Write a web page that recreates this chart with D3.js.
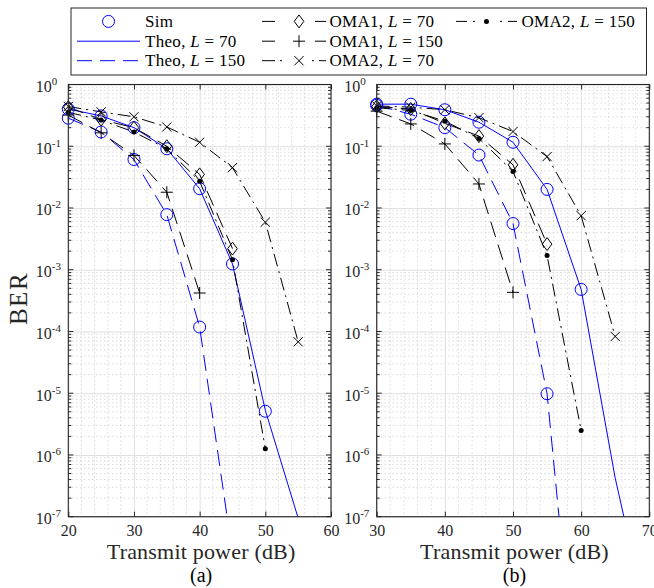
<!DOCTYPE html>
<html>
<head>
<meta charset="utf-8">
<script src="https://cdn.jsdelivr.net/npm/d3@7"></script>
<style>
  body { margin: 0; background: #fff; }
  text { font-family: "Liberation Serif", "Times New Roman", serif; }
</style>
</head>
<body>
<script>
// ---- data, panel (a) ----
var powerA = [20, 25, 30, 35, 40, 45, 50, 55, 60];
var simA70 = [0.40, 0.31, 0.20, 0.091, 0.0205, 0.00124, 5.1e-6];
var simA150 = [0.285, 0.170, 0.061, 0.0078, 1.18e-4];
var theoA70 = [0.40, 0.31, 0.20, 0.091, 0.0205, 0.00124, 5.3e-6, 9.5e-8, 3e-10];
var theoA150 = [0.285, 0.170, 0.061, 0.0078, 1.18e-4, 2.5e-8];
var oma1A70 = [0.43, 0.27, 0.20, 0.100, 0.035, 0.0022];
var oma1A150 = [0.32, 0.165, 0.071, 0.018, 4.2e-4];
var oma2A70 = [0.44, 0.36, 0.30, 0.205, 0.116, 0.045, 0.0059, 6.8e-5];
var oma2A150 = [0.355, 0.265, 0.17, 0.091, 0.027, 0.00145, 1.26e-6];

// ---- data, panel (b) ----
var powerB = [30, 35, 40, 45, 50, 55, 60, 65, 70];
var simB70 = [0.48, 0.48, 0.39, 0.245, 0.116, 0.020, 4.8e-4];
var simB150 = [0.46, 0.33, 0.20, 0.072, 0.0056, 9.8e-6];
var theoB70 = [0.48, 0.48, 0.39, 0.245, 0.116, 0.020, 4.8e-4, 4.2e-7, 1.5e-9];
var theoB150 = [0.46, 0.33, 0.20, 0.072, 0.0056, 9.8e-6, 2e-11];
var oma1B70 = [0.44, 0.40, 0.235, 0.146, 0.050, 0.0026];
var oma1B150 = [0.37, 0.23, 0.109, 0.0245, 4.3e-4];
var oma2B70 = [0.45, 0.43, 0.39, 0.29, 0.173, 0.068, 0.0075, 8.3e-5];
var oma2B150 = [0.42, 0.38, 0.255, 0.134, 0.039, 0.0017, 2.5e-6];

var yDecades = [1e-7, 1e-6, 1e-5, 1e-4, 1e-3, 1e-2, 1e-1, 1];
var xlabel = "Transmit power (dB)";

var BLUE = "#0000ff", BLACK = "#000";
var DASH = "16,8", DASHDOT = "13,5,2,5";

var W = 654, H = 588;
var plotTop = 84.5, plotBottom = 516.7;

var svg = d3.select("body").append("svg")
  .attr("width", W).attr("height", H);
svg.append("rect").attr("width", W).attr("height", H).attr("fill", "#fff");

function pairs(xs, ys) {
  return ys.map(function(v, i) { return [xs[i], v]; });
}

function drawMarker(g, type, cx, cy, color) {
  if (type == "o") {
    g.append("circle").attr("cx", cx).attr("cy", cy).attr("r", 6)
      .attr("fill", "none").attr("stroke", color).attr("stroke-width", 1);
  } else if (type == "d") {
    g.append("path")
      .attr("d", "M" + cx + "," + (cy - 6.5) + "L" + (cx + 4.8) + "," + cy +
        "L" + cx + "," + (cy + 6.5) + "L" + (cx - 4.8) + "," + cy + "Z")
      .attr("fill", "none").attr("stroke", color).attr("stroke-width", 1);
  } else if (type == "+") {
    g.append("path")
      .attr("d", "M" + (cx - 6) + "," + cy + "H" + (cx + 6) + "M" + cx + "," + (cy - 6) + "V" + (cy + 6))
      .attr("stroke", color).attr("stroke-width", 1);
  } else if (type == "x") {
    g.append("path")
      .attr("d", "M" + (cx - 4.6) + "," + (cy - 4.6) + "L" + (cx + 4.6) + "," + (cy + 4.6) +
        "M" + (cx - 4.6) + "," + (cy + 4.6) + "L" + (cx + 4.6) + "," + (cy - 4.6))
      .attr("stroke", color).attr("stroke-width", 1);
  } else if (type == ".") {
    g.append("circle").attr("cx", cx).attr("cy", cy).attr("r", 2.5).attr("fill", color);
  }
}

var panels = [
  { name: "(a)", left: 68.3, right: 331, domain: [20, 60], xs: powerA,
    series: [
      { data: pairs(powerA, theoA70), color: BLUE, dash: null, marker: null },
      { data: pairs(powerA, theoA150), color: BLUE, dash: DASH, marker: null },
      { data: pairs(powerA, simA70), color: BLUE, dash: "none", marker: "o" },
      { data: pairs(powerA, simA150), color: BLUE, dash: "none", marker: "o" },
      { data: pairs(powerA, oma1A70), color: BLACK, dash: DASH, marker: "d" },
      { data: pairs(powerA, oma1A150), color: BLACK, dash: DASH, marker: "+" },
      { data: pairs(powerA, oma2A70), color: BLACK, dash: DASHDOT, marker: "x" },
      { data: pairs(powerA, oma2A150), color: BLACK, dash: DASHDOT, marker: "." }
    ] },
  { name: "(b)", left: 376.7, right: 649.3, domain: [30, 70], xs: powerB,
    series: [
      { data: pairs(powerB, theoB70), color: BLUE, dash: null, marker: null },
      { data: pairs(powerB, theoB150), color: BLUE, dash: DASH, marker: null },
      { data: pairs(powerB, simB70), color: BLUE, dash: "none", marker: "o" },
      { data: pairs(powerB, simB150), color: BLUE, dash: "none", marker: "o" },
      { data: pairs(powerB, oma1B70), color: BLACK, dash: DASH, marker: "d" },
      { data: pairs(powerB, oma1B150), color: BLACK, dash: DASH, marker: "+" },
      { data: pairs(powerB, oma2B70), color: BLACK, dash: DASHDOT, marker: "x" },
      { data: pairs(powerB, oma2B150), color: BLACK, dash: DASHDOT, marker: "." }
    ] }
];

panels.forEach(function(p, pi) {
  var x = d3.scaleLinear().domain(p.domain).range([p.left, p.right]);
  var y = d3.scaleLog().domain([1e-7, 1]).range([plotBottom, plotTop]);
  var w = p.right - p.left, h = plotBottom - plotTop;
  var g = svg.append("g");

  // minor grid
  var minorY = [];
  yDecades.slice(0, -1).forEach(function(d) {
    for (var k = 2; k < 10; k++) minorY.push(d * k);
  });
  var minorX = d3.range(p.domain[0], p.domain[1] + 0.1, 2).filter(function(v) { return v % 10 != 0; });
  g.selectAll(".mgy").data(minorY).enter().append("line")
    .attr("x1", p.left).attr("x2", p.right)
    .attr("y1", function(d) { return y(d); }).attr("y2", function(d) { return y(d); })
    .attr("stroke", "#bcbcbc").attr("stroke-width", 0.8).attr("stroke-dasharray", "1,3");
  g.selectAll(".mgx").data(minorX).enter().append("line")
    .attr("y1", plotTop).attr("y2", plotBottom)
    .attr("x1", function(d) { return x(d); }).attr("x2", function(d) { return x(d); })
    .attr("stroke", "#bcbcbc").attr("stroke-width", 0.8).attr("stroke-dasharray", "1,3");

  // major grid
  var xt = d3.range(p.domain[0], p.domain[1] + 1, 10);
  g.append("g").attr("transform", "translate(0," + plotBottom + ")")
    .call(d3.axisBottom(x).tickValues(xt).tickSize(-h).tickFormat(""))
    .call(function(s) { s.select(".domain").remove(); s.selectAll("line").attr("stroke", "#e0e0e0"); });
  g.append("g").attr("transform", "translate(" + p.left + ",0)")
    .call(d3.axisLeft(y).tickValues(yDecades).tickSize(-w).tickFormat(""))
    .call(function(s) { s.select(".domain").remove(); s.selectAll("line").attr("stroke", "#e0e0e0"); });

  // data
  var clipId = "clip" + pi;
  svg.append("clipPath").attr("id", clipId).append("rect")
    .attr("x", p.left).attr("y", plotTop).attr("width", w).attr("height", h);
  var dg = g.append("g").attr("clip-path", "url(#" + clipId + ")");
  var line = d3.line().x(function(d) { return x(d[0]); }).y(function(d) { return y(d[1]); });
  p.series.forEach(function(s) {
    if (s.dash != "none") {
      dg.append("path").attr("d", line(s.data)).attr("fill", "none")
        .attr("stroke", s.color).attr("stroke-width", 1)
        .attr("stroke-dasharray", s.dash);
    }
  });
  var mg = g.append("g");
  p.series.forEach(function(s) {
    if (s.marker) s.data.forEach(function(d) { drawMarker(mg, s.marker, x(d[0]), y(d[1]), s.color); });
  });

  // axes ticks
  var axColor = "#262626";
  var bx = g.append("g").attr("transform", "translate(0," + plotBottom + ")")
    .call(d3.axisBottom(x).tickValues(xt).tickSize(-5).tickSizeOuter(0));
  bx.select(".domain").remove();
  bx.selectAll("line").attr("stroke", axColor);
  bx.selectAll("text").attr("y", 19.5).attr("dy", 0)
    .attr("font-size", 16).attr("fill", axColor)
    .style("font-family", '"Liberation Serif", serif');
  var tx = g.append("g").attr("transform", "translate(0," + plotTop + ")")
    .call(d3.axisTop(x).tickValues(xt).tickSize(-5).tickFormat(""));
  tx.select(".domain").remove();
  tx.selectAll("line").attr("stroke", axColor);

  [[p.left, 1], [p.right, -1]].forEach(function(side) {
    var sg = g.append("g");
    sg.selectAll(".maj").data(yDecades).enter().append("line")
      .attr("x1", side[0]).attr("x2", side[0] + side[1] * 5)
      .attr("y1", function(d) { return y(d); }).attr("y2", function(d) { return y(d); })
      .attr("stroke", axColor);
    sg.selectAll(".min").data(minorY).enter().append("line")
      .attr("x1", side[0]).attr("x2", side[0] + side[1] * 3)
      .attr("y1", function(d) { return y(d); }).attr("y2", function(d) { return y(d); })
      .attr("stroke", axColor);
  });

  var ly = g.append("g").attr("transform", "translate(" + p.left + ",0)")
    .call(d3.axisLeft(y).tickValues(yDecades).tickSize(0));
  ly.select(".domain").remove();
  ly.selectAll(".tick text").each(function(d) {
    var t = d3.select(this).text(null)
      .attr("x", -32.5).attr("y", 7).attr("dy", 0)
      .attr("text-anchor", "start").attr("font-size", 16).attr("fill", axColor)
      .style("font-family", '"Liberation Serif", serif');
    t.append("tspan").text("10");
    t.append("tspan").attr("dy", -7).attr("font-size", 11).text(String(Math.round(Math.log10(d))));
  });

  g.append("rect").attr("x", p.left).attr("y", plotTop).attr("width", w).attr("height", h)
    .attr("fill", "none").attr("stroke", axColor).attr("stroke-width", 1.1);

  var cx = (p.left + p.right) / 2 + 1.5;
  g.append("text").attr("x", cx).attr("y", 559).attr("text-anchor", "middle")
    .attr("font-size", 22).attr("letter-spacing", 0.2).attr("fill", "#262626").text(xlabel);
  g.append("text").attr("x", cx).attr("y", 582).attr("text-anchor", "middle")
    .attr("font-size", 20).attr("fill", "#000").text(p.name);
});

svg.append("text").attr("transform", "translate(27,298.5) rotate(-90)")
  .attr("text-anchor", "middle").attr("font-size", 25).attr("letter-spacing", 1.5)
  .attr("fill", "#262626").text("BER");

// legend
var legendItems = [
  { label: "Sim", L: null, col: 0, row: 0, color: BLUE, dash: "none", marker: "o" },
  { label: "Theo, ", L: "70", col: 0, row: 1, color: BLUE, dash: null, marker: null },
  { label: "Theo, ", L: "150", col: 0, row: 2, color: BLUE, dash: "15,8", marker: null },
  { label: "OMA1, ", L: "70", col: 1, row: 0, color: BLACK, dash: "13,40,13", marker: "d" },
  { label: "OMA1, ", L: "150", col: 1, row: 1, color: BLACK, dash: "13,40,13", marker: "+" },
  { label: "OMA2, ", L: "70", col: 1, row: 2, color: BLACK, dash: "13,5,2,30,2,5,9", marker: "x" },
  { label: "OMA2, ", L: "150", col: 2, row: 0, color: BLACK, dash: "11,6,2,25,2,6,10", marker: "." }
];
var colLine = [[77, 140], [262, 326], [456, 517]];
var colText = [145, 329.5, 521.5];
var rowBase = [26.7, 46.5, 66];

var lg = svg.append("g");
lg.append("rect").attr("x", 71).attr("y", 8).attr("width", 575.5).attr("height", 67)
  .attr("fill", "#fff").attr("stroke", "#262626").attr("stroke-width", 1);
legendItems.forEach(function(it) {
  var x0 = colLine[it.col][0], x1 = colLine[it.col][1];
  var cy = rowBase[it.row] - 5.3;
  if (it.dash != "none") {
    lg.append("line").attr("x1", x0).attr("x2", x1).attr("y1", cy).attr("y2", cy)
      .attr("stroke", it.color).attr("stroke-width", 1).attr("stroke-dasharray", it.dash);
  }
  if (it.marker) drawMarker(lg, it.marker, (x0 + x1) / 2 + (it.col == 1 ? 5 : 0), cy, it.color);
  var t = lg.append("text").attr("x", colText[it.col]).attr("y", rowBase[it.row])
    .attr("font-size", 17).attr("letter-spacing", 0.3).attr("fill", "#000");
  t.append("tspan").text(it.label);
  if (it.L) {
    t.append("tspan").attr("font-style", "italic").text("L");
    t.append("tspan").text(" = " + it.L);
  }
});
</script>
</body>
</html>
